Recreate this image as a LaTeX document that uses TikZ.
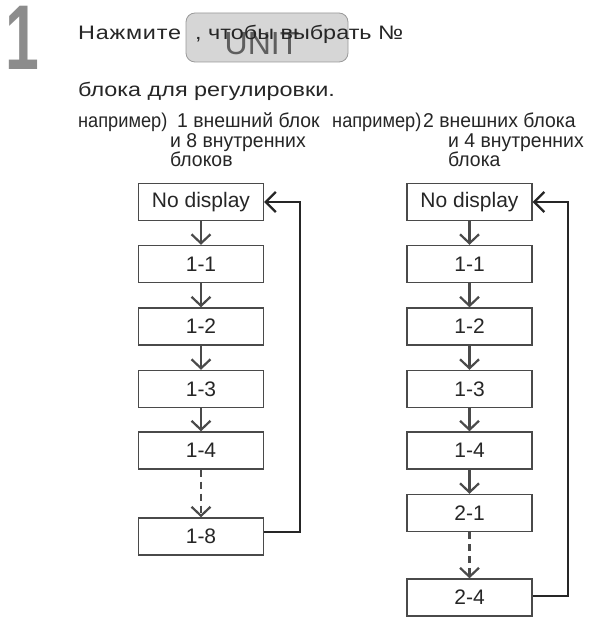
\documentclass[tikz,border=0pt]{standalone}
\usepackage{fontspec}
\setmainfont{Liberation Sans}
\newfontfamily\narrowfont[FakeStretch=0.97]{Liberation Sans}
\newfontfamily\narrowerfont[FakeStretch=0.91]{Liberation Sans}
\newfontfamily\widefont[FakeStretch=1.2]{Liberation Sans}
\newfontfamily\spacedfont[FakeStretch=1.2,LetterSpace=4]{Liberation Sans}
\usetikzlibrary{arrows.meta}
\definecolor{boxline}{HTML}{4A4A4A}
\definecolor{bigone}{HTML}{8C8C8C}
\definecolor{btnfill}{HTML}{D6D6D6}
\definecolor{btnline}{HTML}{9A9A9A}
\definecolor{unittext}{HTML}{5E5E5E}
\tikzset{
  stepbox/.style={draw=boxline, line width=1.4pt, minimum width=125pt, minimum height=37pt,
    inner sep=0pt, font=\fontsize{21pt}{21pt}\selectfont, text=black!85},
  flow/.style={draw=boxline, line width=2.2pt, -{Straight Barb[length=9pt,width=19pt,line width=2.2pt]}},
  dflow/.style={flow, dash pattern=on 7pt off 5pt},
  back/.style={draw=black!85, line width=2.4pt, -{Straight Barb[length=10pt,width=20pt,line width=2.2pt]}},
  bigtxt/.style={font=\widefont\fontsize{19.5pt}{19.5pt}\selectfont, text=black!85, inner sep=0pt, anchor=base west},
  smalltxt/.style={font=\narrowfont\fontsize{20pt}{20pt}\selectfont, text=black!85, inner sep=0pt, anchor=base west},
  egtxt/.style={smalltxt, font=\narrowerfont\fontsize{20pt}{20pt}\selectfont}
}
\begin{document}
\begin{tikzpicture}[x=1pt,y=-1pt]
\useasboundingbox[fill=white] (0,0) rectangle (590,617);
% header
\node[font=\bfseries\fontsize{92pt}{92pt}\selectfont, text=bigone, inner sep=0pt, text height=64pt, text depth=0pt, anchor=base west] (num) at (5.5,70) {\scalebox{0.66}[1]{1}};
\node[bigtxt, font=\spacedfont\fontsize{19.5pt}{19.5pt}\selectfont] (press) at (78,40) {Нажмите};
\node[draw=btnline, fill=btnfill, rounded corners=9pt, line width=0.8pt, minimum width=162pt, minimum height=49pt, inner sep=0pt] (btn) at (267,37.5) {};
\node[font=\fontsize{32pt}{32pt}\selectfont, text=unittext, inner sep=0pt] (unit) at (262,44) {UNIT};
\node[bigtxt] (select) at (195,40) {, чтобы выбрать №};
\node[bigtxt] (line2) at (78,97) {блока для регулировки.};
% example captions
\node[egtxt] (ex1) at (78,128) {например)};
\node[smalltxt] (ex1a) at (177,128) {1 внешний блок};
\node[smalltxt] (ex1b) at (170,148) {и 8 внутренних};
\node[smalltxt] (ex1c) at (170,167) {блоков};
\node[egtxt] (ex2) at (332,128) {например)};
\node[smalltxt] (ex2a) at (423,128) {2 внешних блока};
\node[smalltxt] (ex2b) at (448,148) {и 4 внутренних};
\node[smalltxt] (ex2c) at (448,167) {блока};
% left column
\node[stepbox] (L0) at (201,202) {No display};
\node[stepbox] (L1) at (201,264) {1-1};
\node[stepbox] (L2) at (201,326.5) {1-2};
\node[stepbox] (L3) at (201,389) {1-3};
\node[stepbox] (L4) at (201,450.5) {1-4};
\node[stepbox] (L8) at (201,536.5) {1-8};
\draw[flow] (L0) -- (L1);
\draw[flow] (L1) -- (L2);
\draw[flow] (L2) -- (L3);
\draw[flow] (L3) -- (L4);
\draw[dflow] (L4) -- (L8);
\coordinate (LR) at (300,0);
\draw[back] (L8.east |- 0,532) -| (LR |- L0.east) -- (L0.east);
% right column
\node[stepbox] (R0) at (469.5,202) {No display};
\node[stepbox] (R1) at (469.5,264) {1-1};
\node[stepbox] (R2) at (469.5,326.5) {1-2};
\node[stepbox] (R3) at (469.5,389) {1-3};
\node[stepbox] (R4) at (469.5,450.5) {1-4};
\node[stepbox] (R5) at (469.5,513) {2-1};
\node[stepbox] (R8) at (469.5,597.5) {2-4};
\draw[flow] (R0) -- (R1);
\draw[flow] (R1) -- (R2);
\draw[flow] (R2) -- (R3);
\draw[flow] (R3) -- (R4);
\draw[flow] (R4) -- (R5);
\draw[dflow] (R5) -- (R8);
\coordinate (RR) at (568,0);
\draw[back] (R8.east |- 0,596) -| (RR |- R0.east) -- (R0.east);
\end{tikzpicture}
\end{document}
